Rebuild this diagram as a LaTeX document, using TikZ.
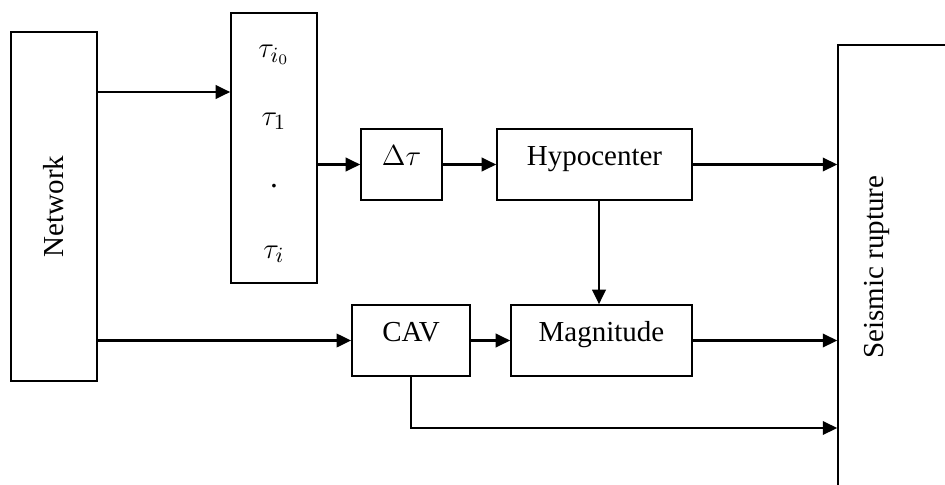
\documentclass[tikz,border=0pt]{standalone}
\usepackage{amsmath}
\usepackage{fontspec}
\setmainfont{Liberation Serif}
\usetikzlibrary{arrows.meta, positioning}

\begin{document}
\begin{tikzpicture}[
            x=0.414pt, y=-0.414pt,
            box/.style={rectangle, draw=black, line width=0.7pt, inner sep=0pt, font=\fontsize{12}{14}\selectfont},
            block/.style={box, minimum height=29.4pt, text height=8pt, text depth=7pt},
            tau/.style={inner sep=1pt, font=\fontsize{13}{15}\selectfont},
            arrow/.style={line width=0.85pt, -{Triangle[length=6pt, width=5.6pt]}}
            ]
            \clip (0,0) rectangle (945,484);

            \node (network) [box, minimum width=35.6pt, minimum height=144.5pt] at (54,206.5) {\rotatebox{90}{Network}};
            \node (taus) [box, minimum width=35.6pt, minimum height=111.8pt] at (274,148) {};
            \node (tau0) [tau] at (274,55) {$\tau_{i_0}$};
            \node (tau1) [tau] at (274,121) {$\tau_1$};
            \node (taudot) [tau] at (274,186) {.};
            \node (taui) [tau] at (274,254) {$\tau_i$};
            \node (dtau) [block, minimum width=33.5pt] at (401.5,164.5) {$\Delta\tau$};
            \node (hypo) [block, minimum width=80.7pt] at (594.5,164.5) {Hypocenter};
            \node (cav) [block, minimum width=48.9pt] at (411,340.5) {CAV};
            \node (magn) [block, minimum width=74.9pt] at (601.5,340.5) {Magnitude};
            \node (rupture) [box, minimum width=67pt, minimum height=196.7pt] at (919,282.5) {};
            \node (rupturetxt) [font=\fontsize{12}{14}\selectfont, rotate=90] at (877,267) {Seismic rupture};

            \coordinate (rowA) at (0,92);
            \coordinate (rowD) at (0,428);

            \draw [arrow] (network.east |- rowA) -- (taus.west |- rowA);
            \draw [arrow] (taus.east |- dtau.west) -- (dtau.west);
            \draw [arrow] (dtau) -- (hypo);
            \draw [arrow] (hypo) -- (hypo -| rupture.west);
            \draw [arrow] (hypo.south -| 599,0) -- (magn.north -| 599,0);
            \draw [arrow] (network.east |- cav.west) -- (cav.west);
            \draw [arrow] (cav) -- (magn);
            \draw [arrow] (magn) -- (magn -| rupture.west);
            \draw [arrow] (cav.south) |- (rowD -| rupture.west);
        \end{tikzpicture}
\end{document}
